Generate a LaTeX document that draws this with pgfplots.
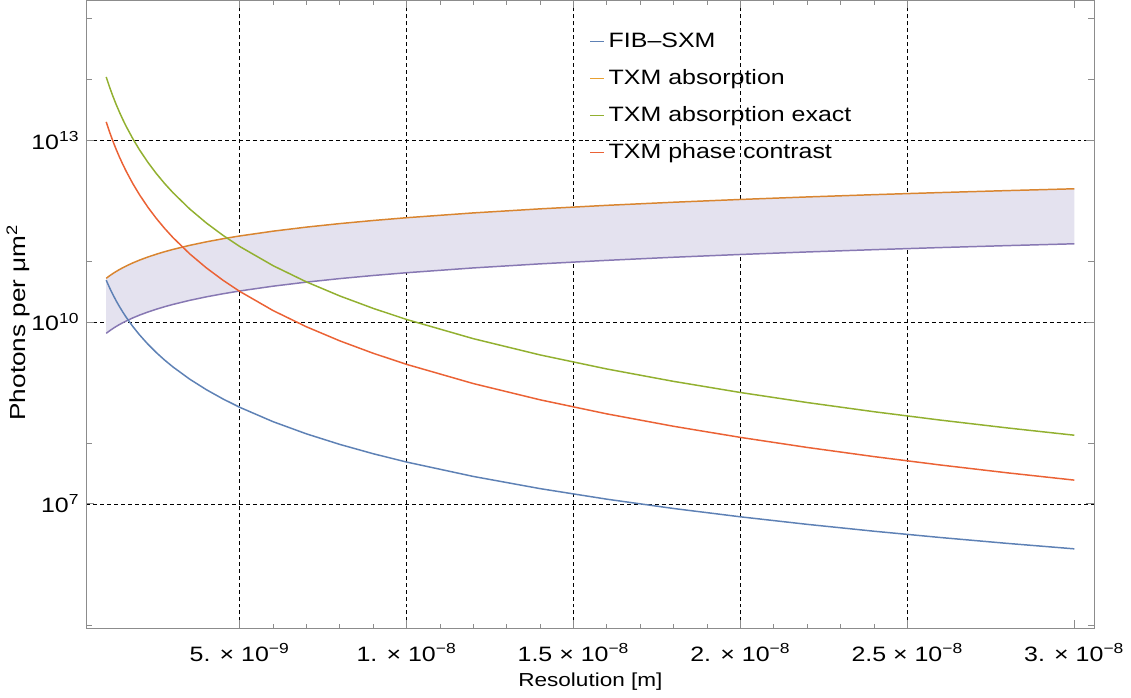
\documentclass[border=0pt]{standalone}
\usepackage{fontspec}
\setmainfont{Liberation Sans}[FakeStretch=1.2]
\usepackage{pgfplots}
\pgfplotsset{compat=1.18}
\usepackage{pgfplotstable}
\usepgfplotslibrary{fillbetween}

\definecolor{mblue}{HTML}{5E81B5}
\definecolor{morange}{HTML}{D98530}
\definecolor{lorange}{HTML}{E8A030}
\definecolor{mgreen}{HTML}{92B030}
\definecolor{mred}{HTML}{EB6235}
\definecolor{mpurple}{HTML}{8778B3}
\definecolor{mfill}{HTML}{E4E2EF}
\definecolor{frame}{HTML}{8C8C8C}

% r in nm; photons per um^2
\pgfplotstableread{
r     fib       abs        low        exact      phase
1     4.9e10    5.25e10    6.5e9      1.1e14     2.0e13
1.1   3.681e10  5.775e10   7.15e9     7.513e13   1.366e13
1.2   2.836e10  6.3e10     7.8e9      5.305e13   9.645e12
1.3   2.230e10  6.825e10   8.45e9     3.851e13   7.003e12
1.4   1.786e10  7.35e10    9.1e9      2.863e13   5.206e12
1.5   1.452e10  7.875e10   9.75e9     2.173e13   3.951e12
1.6   1.196e10  8.4e10     1.04e10    1.678e13   3.052e12
1.8   8.402e9   9.45e10    1.17e10    1.048e13   1.905e12
2     6.125e9   1.05e11    1.3e10     6.875e12   1.25e12
2.25  4.302e9   1.18125e11 1.4625e10  4.292e12   7.804e11
2.5   3.136e9   1.3125e11  1.625e10   2.816e12   5.12e11
2.75  2.356e9   1.44375e11 1.7875e10  1.923e12   3.497e11
3     1.815e9   1.575e11   1.95e10    1.358e12   2.469e11
3.5   1.143e9   1.8375e11  2.275e10   7.33e11    1.333e11
4     7.656e8   2.1e11     2.6e10     4.297e11   7.813e10
4.5   5.377e8   2.3625e11  2.925e10   2.683e11   4.877e10
5     3.92e8    2.625e11   3.25e10    1.76e11    3.2e10
6     2.269e8   3.15e11    3.9e10     8.488e10   1.543e10
7     1.429e8   3.675e11   4.55e10    4.581e10   8.33e9
8     9.57e7    4.2e11     5.2e10     2.686e10   4.883e9
9     6.721e7   4.725e11   5.85e10    1.677e10   3.048e9
10    4.9e7     5.25e11    6.5e10     1.1e10     2e9
12    2.836e7   6.3e11     7.8e10     5.305e9    9.646e8
14    1.786e7   7.35e11    9.1e10     2.863e9    5.206e8
16    1.196e7   8.4e11     1.04e11    1.679e9    3.052e8
18    8.40e6    9.45e11    1.17e11    1.048e9    1.905e8
20    6.125e6   1.05e12    1.3e11     6.875e8    1.25e8
22    4.602e6   1.155e12   1.43e11    4.696e8    8.538e7
24    3.545e6   1.26e12    1.56e11    3.315e8    6.028e7
26    2.788e6   1.365e12   1.69e11    2.407e8    4.376e7
28    2.232e6   1.47e12    1.82e11    1.790e8    3.254e7
30    1.815e6   1.575e12   1.95e11    1.358e8    2.469e7
}\data

\begin{document}
\begin{tikzpicture}
\begin{axis}[
  width=509pt, height=317pt, scale only axis,
  ymode=log,
  xmin=0.41, xmax=30.6,
  ymin=8.9e4, ymax=2.0e15,
  axis line style={frame, line width=0.6pt},
  tick style={frame, line width=0.5pt},
  major tick length=4pt, minor tick length=2pt,
  tick align=inside,
  xtick={5,10,15,20,25},
  xticklabels={5. × 10\textsuperscript{−9},1. × 10\textsuperscript{−8},1.5 × 10\textsuperscript{−8},2. × 10\textsuperscript{−8},2.5 × 10\textsuperscript{−8}},
  extra x ticks={30},
  extra x tick labels={3. × 10\textsuperscript{−8}},
  extra x tick style={grid=none},
  minor x tick num=4,
  ytick={1e7,1e10,1e13},
  yticklabels={10\textsuperscript{7},10\textsuperscript{10},10\textsuperscript{13}},
  extra y ticks={1e5,1e8,1e11,1e14,1e15},
  extra y tick labels={},
  extra y tick style={grid=none, major tick length=3pt},
  yminorticks=false,
  xmajorgrids, ymajorgrids,
  major grid style={black, line width=0.4pt, dash pattern=on 2pt off 1.5pt},
  tick label style={font=\fontsize{10.5}{12}\selectfont},
  xticklabel style={yshift=-4pt},
  xlabel={Resolution [m]},
  ylabel={Photons per μm\textsuperscript{2}},
  xlabel style={font=\fontsize{9.5}{11}\selectfont, yshift=1pt},
  ylabel style={font=\fontsize{11}{12}\selectfont, yshift=-6pt, xshift=-4pt},
  legend style={at={(0.493,0.962)}, anchor=north west, draw=none, fill=none,
    font=\fontsize{10.5}{13}\selectfont, row sep=5.6pt},
  legend cell align=left,
  every axis plot/.append style={line width=0.75pt},
]
\addlegendimage{legend image code/.code={\draw[mblue, line width=0.6pt] (0pt,0pt) -- (7pt,0pt);}}
\addlegendimage{legend image code/.code={\draw[lorange, line width=0.6pt] (0pt,0pt) -- (7pt,0pt);}}
\addlegendimage{legend image code/.code={\draw[mgreen, line width=0.6pt] (0pt,0pt) -- (7pt,0pt);}}
\addlegendimage{legend image code/.code={\draw[mred, line width=0.6pt] (0pt,0pt) -- (7pt,0pt);}}
\legend{FIB–SXM, TXM absorption, TXM absorption exact, TXM phase contrast}

\addplot[draw=none, name path=upper, forget plot] table[x=r, y=abs] {\data};
\addplot[draw=none, name path=lower, forget plot] table[x=r, y=low] {\data};
\addplot[mfill, forget plot] fill between[of=upper and lower];
\addplot[mpurple, forget plot] table[x=r, y=low] {\data};

\addplot[mblue, forget plot] table[x=r, y=fib] {\data};
\addplot[morange, forget plot] table[x=r, y=abs] {\data};
\addplot[mgreen, forget plot] table[x=r, y=exact] {\data};
\addplot[mred, forget plot] table[x=r, y=phase] {\data};
\end{axis}
\end{tikzpicture}
\end{document}
